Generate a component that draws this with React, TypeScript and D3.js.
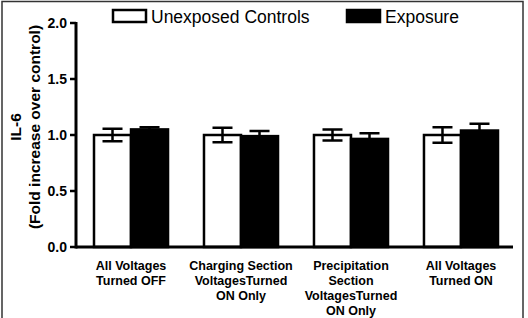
import React, { useEffect, useRef } from "react";
import * as d3 from "d3";

const groups = [
  ["All Voltages", "Turned OFF"],
  ["Charging Section", "VoltagesTurned", "ON Only"],
  ["Precipitation", "Section", "VoltagesTurned", "ON Only"],
  ["All Voltages", "Turned ON"],
];
const seriesNames = ["Unexposed Controls", "Exposure"];
const controlMeans = [1.0, 1.0, 1.0, 1.0];
const controlErr = [0.055, 0.065, 0.05, 0.07];
const exposureMeans = [1.05, 0.99, 0.965, 1.04];
const exposureErr = [0.02, 0.045, 0.05, 0.06];
const yTicks = [0, 0.5, 1.0, 1.5, 2.0];

const W = 528;
const H = 318;
const font = "'Liberation Sans', Arial, sans-serif";

export default function App() {
  const ref = useRef<SVGSVGElement>(null);

  useEffect(() => {
    const svg = d3.select(ref.current);
    svg.selectAll("*").remove();

    // frame (bottom edge falls outside the view)
    svg.append("rect")
      .attr("x", 2).attr("y", 1.5).attr("width", 521).attr("height", H + 10)
      .attr("fill", "#fff").attr("stroke", "#333").attr("stroke-width", 1.5);

    const x0 = 76, x1 = 513;
    const y = d3.scaleLinear().domain([0, 2]).range([247, 23]);
    const xg = d3.scaleBand<number>().domain(d3.range(groups.length)).range([94, 498]).paddingInner(0.327).paddingOuter(0);
    const xs = d3.scaleBand<number>().domain([0, 1]).range([0, xg.bandwidth()]);

    const g = svg.append("g");

    const series = [
      { means: controlMeans, errs: controlErr, fill: "#fff" },
      { means: exposureMeans, errs: exposureErr, fill: "#000" },
    ];

    const errPath = (si: number, full: boolean) => (d: number, i: number) => {
      const s = series[si];
      const cx = xg(i)! + xs(si)! + xs.bandwidth() / 2;
      const hi = y(d + s.errs[i]);
      const lo = y(d - s.errs[i]);
      return full
        ? `M${cx},${lo}V${hi}M${cx - 10},${hi}H${cx + 10}M${cx - 10},${lo}H${cx + 10}`
        : `M${cx},${y(d)}V${hi}M${cx - 10},${hi}H${cx + 10}`;
    };

    series.forEach((s, si) => {
      g.selectAll(null).data(s.means).enter().append("rect")
        .attr("x", (d, i) => xg(i)! + xs(si)!)
        .attr("y", (d) => y(d))
        .attr("width", xs.bandwidth())
        .attr("height", (d) => y(0) - y(d))
        .attr("fill", s.fill)
        .attr("stroke", "#000").attr("stroke-width", 2.5);
    });

    // error bars on top of the bars
    series.forEach((s, si) => {
      g.selectAll(null).data(s.means).enter().append("path")
        .attr("d", errPath(si, si === 0))
        .attr("stroke", "#000").attr("stroke-width", 2.5).attr("fill", "none");
    });

    // axes
    svg.append("path").attr("d", `M${x0},${y(0)}H${x1}`).attr("stroke", "#000").attr("stroke-width", 3);
    svg.append("path").attr("d", `M${x0},${y(0) + 1.5}V${y(2) - 1}`).attr("stroke", "#000").attr("stroke-width", 3);

    const ya = svg.append("g");
    ya.selectAll(null).data(yTicks).enter().append("path")
      .attr("d", (d) => `M${x0 - 6},${y(d)}H${x0}`)
      .attr("stroke", "#000").attr("stroke-width", 2.5);
    ya.selectAll(null).data(yTicks).enter().append("text")
      .attr("x", x0 - 9).attr("y", (d) => y(d) + 5)
      .attr("text-anchor", "end")
      .attr("font-family", font).attr("font-weight", "bold").attr("font-size", 14)
      .text((d) => d3.format(".1f")(d));

    // y title
    const yt = svg.append("text")
      .attr("transform", `translate(0,127) rotate(-90)`)
      .attr("text-anchor", "middle")
      .attr("font-family", font).attr("font-weight", "bold").attr("font-size", 15.5);
    yt.append("tspan").attr("x", 0).attr("y", 21).text("IL-6");
    yt.append("tspan").attr("x", 0).attr("y", 40).text("(Fold increase over control)");

    // category labels
    groups.forEach((lines, i) => {
      const cx = xg(i)! + xg.bandwidth() / 2;
      const t = svg.append("text")
        .attr("text-anchor", "middle")
        .attr("font-family", font).attr("font-weight", "bold").attr("font-size", 12.5);
      lines.forEach((l, j) => {
        t.append("tspan").attr("x", cx).attr("y", 269.5 + j * 15.3).text(l);
      });
    });

    // legend
    const lx = [113, 347];
    seriesNames.forEach((name, i) => {
      svg.append("rect")
        .attr("x", lx[i]).attr("y", 10).attr("width", 33).attr("height", 12)
        .attr("fill", series[i].fill).attr("stroke", "#000").attr("stroke-width", 2.5);
      svg.append("text")
        .attr("x", lx[i] + 38).attr("y", 22.5)
        .attr("font-family", font).attr("font-size", 17.5)
        .text(name);
    });
  }, []);

  return (
    <svg ref={ref} width={W} height={H} style={{ position: "absolute", left: 0, top: 0 }} />
  );
}
